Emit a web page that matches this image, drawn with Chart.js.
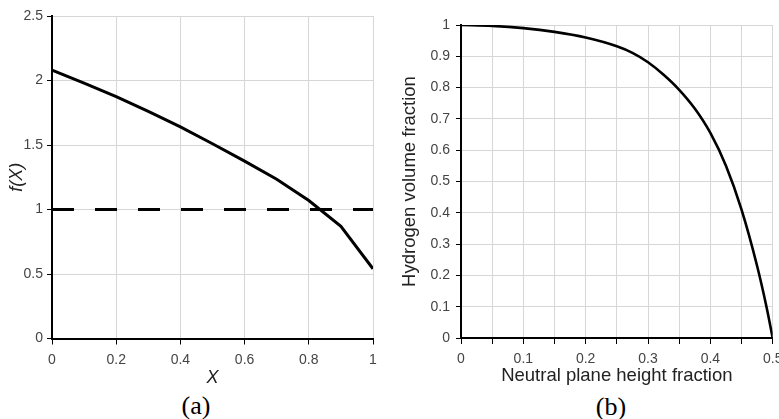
<!DOCTYPE html>
<html>
<head>
<meta charset="utf-8">
<script src="https://cdn.jsdelivr.net/npm/chart.js@4"></script>
<style>
  html, body { margin: 0; padding: 0; background: #fff; overflow: hidden; width: 779px; height: 419px; }
  #wrapA { position: absolute; left: 0; top: 0; }
  #wrapB { position: absolute; left: 390px; top: 0; }
  .cap { position: absolute; font-family: "Liberation Serif", "Times New Roman", serif; font-size: 26px; line-height: 26px; color: #000; width: 60px; text-align: center; }
</style>
</head>
<body>
<div id="wrapA"><canvas id="chartA" width="390" height="390"></canvas></div>
<div id="wrapB"><canvas id="chartB" width="400" height="388"></canvas></div>
<div class="cap" style="left:166px; top:393px;">(a)</div>
<div class="cap" style="left:581px; top:394px;">(b)</div>
<script>
// (a) f(X) against X
let xA = [0, 0.1, 0.2, 0.3, 0.4, 0.5, 0.6, 0.7, 0.8, 0.9, 1.0];
let fA = [2.08, 1.98, 1.875, 1.76, 1.64, 1.51, 1.375, 1.235, 1.07, 0.87, 0.54];
let refX = [0, 1];
let refY = [1, 1];

// (b) hydrogen volume fraction against neutral plane height fraction
let xB = [0, 0.05, 0.1, 0.15, 0.2, 0.25, 0.275, 0.3, 0.325, 0.35, 0.375, 0.4, 0.425, 0.45, 0.475, 0.49, 0.5];
let hB = [1, 0.997, 0.99, 0.978, 0.96, 0.932, 0.911, 0.881, 0.841, 0.793, 0.733, 0.655, 0.55, 0.41, 0.23, 0.1, 0];

function pts(xs, ys) {
    return xs.map(function (x, i) { return { x: x, y: ys[i] }; });
}
function fmt(v) { return String(parseFloat(v.toFixed(2))); }

var fam = 'Liberation Sans, Arial, sans-serif';
var tickFont = { family: fam, size: 14 };
var gridCol = '#d6d6d6';

var ctA = document.getElementById('chartA');
let chartA = new Chart(ctA, {
    type: 'line',
    data: {
        datasets: [{
            data: pts(xA, fA),
            borderColor: '#000',
            borderWidth: 3,
            pointRadius: 0,
            tension: 0
        },
        {
            data: pts(refX, refY),
            borderColor: '#000',
            borderWidth: 3,
            borderDash: [22, 21],
            pointRadius: 0
        }]
    },
    options: {
        responsive: false,
        animation: false,
        layout: { padding: { top: 16, right: 17, left: 0, bottom: 0 } },
        plugins: { legend: { display: false }, tooltip: { enabled: false } },
        scales: {
            x: {
                type: 'linear',
                min: 0, max: 1,
                ticks: { stepSize: 0.2, color: '#444', font: tickFont, padding: 7, maxRotation: 0, callback: fmt },
                grid: { color: gridCol, tickColor: '#000', tickLength: 6 },
                border: { color: '#000', width: 2 },
                title: { display: true, text: 'X', color: '#222',
                    font: { family: fam, size: 18, style: 'italic', lineHeight: 1 },
                    padding: { top: 0, bottom: 3 } },
                afterFit: function (s) { s.height = 51.5; }
            },
            y: {
                min: 0, max: 2.5,
                ticks: { stepSize: 0.5, color: '#444', font: tickFont, padding: 4, callback: fmt },
                grid: { color: gridCol, tickColor: '#000', tickLength: 5 },
                border: { color: '#000', width: 2 },
                title: { display: true, text: 'f(X)', color: '#222',
                    font: { family: fam, size: 18, style: 'italic', lineHeight: 1 },
                    padding: { top: 7.5, bottom: 0 } },
                afterFit: function (s) { s.width = 52; }
            }
        }
    }
});

var ctB = document.getElementById('chartB');
let chartB = new Chart(ctB, {
    type: 'line',
    data: {
        datasets: [{
            data: pts(xB, hB),
            borderColor: '#000',
            borderWidth: 2.6,
            pointRadius: 0,
            cubicInterpolationMode: 'monotone'
        }]
    },
    options: {
        responsive: false,
        animation: false,
        layout: { padding: { top: 25, right: 17.3, left: 0, bottom: 0 } },
        plugins: { legend: { display: false }, tooltip: { enabled: false } },
        scales: {
            x: {
                type: 'linear',
                min: 0, max: 0.5,
                ticks: {
                    stepSize: 0.05, color: '#444', font: tickFont, padding: 7, maxRotation: 0, autoSkip: false,
                    callback: function (v) { return Math.round(v * 100) % 10 === 0 ? fmt(v) : ''; }
                },
                grid: { color: gridCol, tickColor: '#000', tickLength: 6 },
                border: { color: '#000', width: 2 },
                title: { display: true, text: 'Neutral plane height fraction', color: '#222',
                    font: { family: fam, size: 18.5, lineHeight: 1 },
                    padding: { top: 0, bottom: 2.75 } },
                afterFit: function (s) { s.height = 50; }
            },
            y: {
                min: 0, max: 1,
                ticks: { stepSize: 0.1, color: '#444', font: tickFont, padding: 6, callback: fmt },
                grid: { color: gridCol, tickColor: '#000', tickLength: 5 },
                border: { color: '#000', width: 2 },
                title: { display: true, text: 'Hydrogen volume fraction', color: '#222',
                    font: { family: fam, size: 18.5, lineHeight: 1 },
                    padding: { top: 10.75, bottom: 0 } },
                afterFit: function (s) { s.width = 71; }
            }
        }
    }
});
</script>
</body>
</html>
